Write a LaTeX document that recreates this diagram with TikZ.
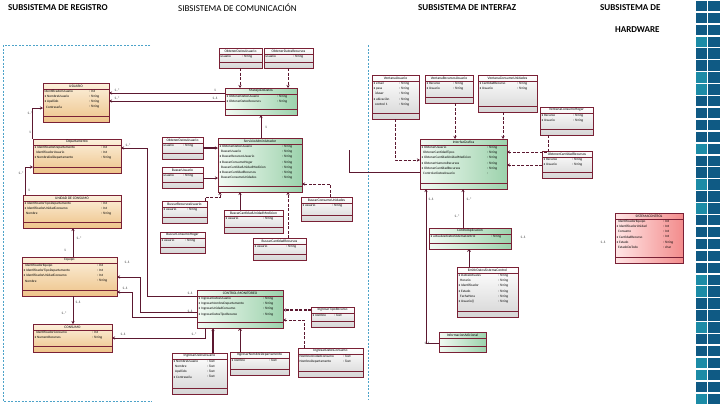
\documentclass[tikz,border=0pt]{standalone}
\usepackage{fontspec}
\setmainfont{Carlito}
\usetikzlibrary{arrows.meta}
\definecolor{clsred}{HTML}{7A2035}
\definecolor{lnc}{HTML}{5C1830}
\definecolor{frm}{HTML}{4DA3C9}
\definecolor{regA}{HTML}{FCF0DC}
\definecolor{regB}{HTML}{EEC48A}
\definecolor{grnA}{HTML}{F2FAF3}
\definecolor{grnB}{HTML}{9CD2AC}
\definecolor{whtB}{HTML}{D6D6D6}
\definecolor{hwA}{HTML}{FFE6E6}
\definecolor{hwB}{HTML}{F38C8C}
\definecolor{tileA}{HTML}{0F5A84}
\definecolor{tileB}{HTML}{1C8BA6}
\tikzset{
 cls/.style={draw=clsred, line width=0.7pt, inner sep=0pt, outer sep=0pt, anchor=north west},
 clsln/.style={draw=clsred, line width=0.5pt},
 ttl/.style={font=\fontsize{3.6}{4}\selectfont, inner sep=0pt, text=black},
 attr/.style={font=\fontsize{3.4}{5.2}\selectfont, inner sep=0pt, align=left, text=black},
 reg/.style={top color=regA, bottom color=regB},
 grn/.style={left color=grnA, right color=grnB},
 wht/.style={top color=white, bottom color=whtB},
 hw/.style={left color=hwA, right color=hwB},
 conn/.style={draw=lnc, line width=0.7pt},
 arr/.style={conn, -{Stealth[length=3pt,width=3pt]}},
 darr/.style={arr, dash pattern=on 3pt off 1.5pt},
 oarr/.style={conn, -{Straight Barb[length=2pt,width=3pt]}},
 mult/.style={font=\fontsize{3.6}{4}\selectfont, inner sep=0pt, text=black!80},
 dashframe/.style={draw=frm, line width=0.6pt, dash pattern=on 2pt off 1.5pt},
 subt/.style={font=\fontsize{9}{10}\selectfont\bfseries, inner sep=0pt, anchor=west},
}
% name, x1, y1, x2, y2, fill style, title, attribute names, attribute types
\newcommand{\classbox}[9]{%
  \node[cls,#6,minimum width={(#4-(#2))*1pt},minimum height={(#5-(#3))*1pt}] (#1) at (#2,#3) {};
  \draw[clsln] ([yshift=-6pt]#1.north west) -- ([yshift=-6pt]#1.north east);
  \draw[clsln] ([yshift=6pt]#1.south west) -- ([yshift=6pt]#1.south east);
  \node[ttl] (#1-t) at ([yshift=-3pt]#1.north) {#7};
  \node[attr,anchor=north west] (#1-n) at ([xshift=1.5pt,yshift=-7pt]#1.north west) {#8};
  \node[attr,anchor=north west] (#1-y) at ([xshift=-20pt,yshift=-7pt]#1.north east) {#9};
}
\begin{document}
\begin{tikzpicture}[x=1pt,y=-1pt]
\fill[white] (0,0) rectangle (720,405);
\useasboundingbox (0,0) rectangle (720,405);

% titles
\node[subt] (t1) at (8,8) {SUBSISTEMA DE REGISTRO};
\node[subt,font=\fontsize{9}{10}\selectfont] (t2) at (178,8) {SIBSISTEMA DE COMUNICACIÓN};
\node[subt] (t3) at (418,8) {SUBSISTEMA DE INTERFAZ};
\node[subt] (t4) at (600,8) {SUBSISTEMA DE};
\node[subt] (t5) at (615,30) {HARDWARE};

% dashed frames
\draw[dashframe] (150,45) -- (3,45) -- (3,401) -- (152,401);
\draw[dashframe] (368,45) -- (368,400);

% tiles
\foreach \i in {0,...,33}{
  \pgfmathsetmacro\ty{\i*11.9+0.8}
  \fill[tileA] (696,\ty) rectangle ++(11,10.4);
  \fill[tileA] (708,\ty) rectangle ++(11.5,10.4);
}
\foreach \i in {3,6,7,12,15,17,23,24,27,30,31,33}{
  \pgfmathsetmacro\ty{\i*11.9+0.8}
  \fill[tileB] (696,\ty) rectangle ++(11,10.4);
}

% ---------- REGISTRO ----------
\classbox{usuario}{43}{83}{109}{122}{reg}{USUARIO}
 {IdentificadorUsuario\\• NombreUsuario\\• Apellido\\\ \ Contraseña}{: Int\\: String\\: String\\: String}
\classbox{depto}{33}{139}{121}{173}{reg}{Departamento}
 {• IdentificadorDepartamento\\\ \ IdentificadorUsuario\\• NombreDelDepartamento}{: Int\\: Int\\: String}
\classbox{unidad}{23}{195}{121}{228}{reg}{UNIDAD DE CONSUMO}
 {• IdentificadorTipoDepartamento\\• IdentificadorUnidadConsumo\\\ \ Nombre}{: Int\\: Int\\: String}
\classbox{equipo}{22}{257}{117}{296}{reg}{Equipo}
 {\ \ IdentificadorEquipo\\• IdentificadorTipoDepartamento\\• IdentificadorUnidadConsumo\\\ \ Nombre}{: Int\\: Int\\: Int\\: String}
\classbox{consumo}{33}{324}{112}{352}{reg}{CONSUMO}
 {\ \ IdentificadorConsumo\\• NumeroRecursos}{: Int\\: String}

% ---------- COMUNICACION ----------
\classbox{odu1}{219}{48}{262}{68}{wht}{ObtenerDatosUsuario}{usuario}{: String}
\classbox{odr}{264}{48}{313}{68}{wht}{ObtenerDatosRecursos}{usuario}{: String}
\classbox{manejo}{225}{88}{297}{115}{grn}{ManejoDeDatos}
 {• ObtenerDatosUsuario\\• ObtenerDatosRecursos}{: String\\: String}
\classbox{servicio}{218}{138}{302}{192}{grn}{ServicioAdministrador}
 {• ObtenerDatosUsuario\\\ \ BuscarUsuario\\• BuscarRecursosUsuario\\• BuscarConsumoHogar\\\ \ BuscarCantidadUnidadMedicion\\• BuscarCantidadRecursos\\\ \ BuscarConsumoUnidades}
 {: String\\: String\\: String\\: String\\: String\\: String\\: String}
\classbox{odu2}{162}{137}{203}{159}{wht}{ObtenerDatosUsuario}{usuario}{: String}
\classbox{busu}{162}{167}{203}{188}{wht}{BuscarUsuario}{usuario}{: String}
\classbox{brecu}{162}{201}{207}{223}{wht}{BuscarRecursosUsuario}{• usuario}{: String}
\classbox{bhog}{160}{232}{205}{253}{wht}{BuscarConsumoHogar}{• usuario}{: String}
\classbox{bcum}{224}{210}{283}{233}{wht}{BuscarCantidadUnidadMedicion}{• usuario}{: String}
\classbox{bcrec}{253}{238}{306}{260}{wht}{BuscarCantidadRecursos}{• usuario}{: String}
\classbox{bcuni}{301}{197}{352}{221}{wht}{BuscarConsumoUnidades}{• usuario}{: String}
\classbox{control}{197}{290}{283}{328}{grn}{CONTROL/MONITOREO}
 {• IngresarDatosUsuario\\• IngresarNombreDepartamento\\• IngresarUnidadConsumo\\• IngresarDatosTipoRecurso}{: String\\: String\\: String\\: String}
\classbox{ingusu}{172}{353}{227}{394}{wht}{IngresarDatosUsuario}
 {• NombreUsuario\\\ \ Nombre\\\ \ Apellido\\• Contraseña}{: Text\\: Text\\: Text\\: Text}
\classbox{ingdep}{230}{352}{289}{375}{wht}{IngresarNombreDepartamento}{• nombre}{: Text}
\classbox{ingcon}{298}{348}{363}{377}{wht}{IngresarDatosConsumo}
 {NombreUnidadConsumo\\NombreDepartamento}{: Text\\: Text}
\classbox{ingtip}{311}{307}{354}{327}{wht}{IngresarTipoRecurso}{• nombre}{: Text}

% ---------- INTERFAZ ----------
\classbox{vusu}{372}{75}{419}{119}{wht}{VentanaUsuario}
 {• email\\• pass\\\ \ iduser\\• ubicación\\\ \ control 1}{: String\\: String\\: String\\: String\\: String}
\classbox{vrec}{425}{75}{473}{103}{wht}{VentanaRecursosUsuario}{• Recurso\\• Usuario}{: String\\: String}
\classbox{vhog}{478}{75}{537}{112}{wht}{VentanaConsumoUnidades}{• CantidadRecurso\\• Usuario}{: String\\: String}
\classbox{vcant}{540}{107}{593}{135}{wht}{VentanaConsumoHogar}{• Recurso\\• Usuario}{: String\\: String}
\classbox{ocant}{542}{151}{592}{178}{wht}{ObtenerCantidadRecursos}{• Recurso\\• Usuario}{: String\\: String}
\classbox{igraf}{420}{139}{507}{189}{grn}{InterfazGrafica}
 {• ObtenerUsuario\\\ \ ObtenerCantidadTipos\\• ObtenerCantidadUnidadMedicion\\• ObtenerNumeroRecursos\\• ObtenerCantidadRecursos\\\ \ ControlarDatosUsuario}
 {: String\\: String\\: String\\: String\\: String\\:}
\classbox{capl}{429}{228}{511}{249}{grn}{ControlAplicacion}{• actualizarDatosSistemaControl}{: String}
\classbox{emitir}{457}{267}{518}{317}{wht}{EmitirDatosSistemaControl}
 {• DatosActuales\\\ \ Horario\\• Identificador\\• Estado\\\ \ FechaHora\\• Usuario()}{: String\\: String\\: String\\: String\\: String\\: String}
\classbox{infad}{439}{332}{486}{352}{grn}{InformacionAdicional}{}{}

% ---------- HARDWARE ----------
\classbox{sisctl}{615}{213}{683}{263}{hw}{SISTEMACONTROL}
 {\ \ IdentificadorEquipo\\• IdentificadorUnidad\\\ \ Consumo\\• CantidadRecurso\\• Estado\\\ \ EstadoDeTodo}{: Int\\: Int\\: Int\\: Int\\: String\\: char}

% ---------- CONNECTORS: registro ----------
\draw[arr] ([xshift=-1pt]depto.north west) |- (usuario.west |- 0,108);
\draw[arr] (manejo.west |- 0,93) -- (usuario.east |- 0,93);
\draw[arr] (manejo.west |- 0,101) -- (usuario.east |- 0,101);
\draw[arr] ([xshift=2pt]unidad.north west) |- (depto.west |- 0,167);
\draw[arr] (equipo.north -| 73,0) -- (unidad.south -| 73,0);
\draw[arr] (equipo.south -| 73,0) -- (consumo.north -| 73,0);
\draw[arr] ([xshift=8pt]control.south west) |- (consumo.east |- 0,338);
\draw[arr] (control.west |- 0,296) -- (147,296) -- (147,148) -- (depto.east |- 0,148);
\draw[arr] (control.west |- 0,312) -- (140,312) -- (140,277) -- (equipo.east |- 0,277);
\draw[arr] (control.west |- 0,317) -- (132,317) -- (132,292) -- (equipo.east |- 0,292);

% ---------- CONNECTORS: comunicacion ----------
\draw[darr] (odu1.south -| 240,0) -- (manejo.north -| 240,0);
\draw[darr] (odr.south -| 288,0) -- (manejo.north -| 288,0);
\draw[arr] (servicio.north -| 261,0) -- (manejo.south -| 261,0);
\draw[arr, line width=1.4pt] (odu2.east |- 0,148) -- (servicio.west |- 0,148);
\draw[arr] (busu.east |- 0,178) -- (servicio.west |- 0,178);
\draw[darr] (brecu.north -| 205,0) |- (220,197) -- (servicio.south -| 220,0);
\draw[arr] (bcum.north -| 240,0) -- (servicio.south -| 240,0);
\draw[darr] (bcrec.north -| 288,0) -- (servicio.south -| 288,0);
\draw[darr] (bcuni.north -| 330,0) |- (servicio.east |- 0,184);
\draw[darr, line width=1.4pt] (ingtip.west |- 0,310) -- (control.east |- 0,310);
\draw[darr] (ingcon.north -| 304,0) |- (control.east |- 0,320);
\draw[arr, line width=1.3pt] (ingusu.north -| 213,0) -- (control.south -| 213,0);
\draw[oarr] (ingdep.north -| 240,0) -- (control.south -| 240,0);

% ---------- CONNECTORS: interfaz ----------
\coordinate (extA) at (349,150);
\draw[conn] (extA) |- (igraf.west |- 0,172);
\draw[darr] (vusu.south -| 395,0) |- (igraf.west |- 0,160);
\draw[darr] (vrec.south -| 455,0) -- (igraf.north -| 455,0);
\draw[darr] (vhog.south -| 503,0) -- (igraf.north -| 503,0);
\draw[darr] (vcant.south -| 548,0) |- (igraf.east |- 0,152);
\draw[darr] (ocant.west |- 0,165) -- (igraf.east |- 0,165);
\draw[arr] (capl.north -| 463,0) -- (igraf.south -| 463,0);
\draw[arr] (infad.west |- 0,343) -| (igraf.south -| 426,0);
\draw[oarr] (emitir.north -| 469,0) -- (capl.south -| 469,0);

% ---------- multiplicities ----------
\node[mult] (L1) at (30,132) {1};
\node[mult] (L2) at (30,113) {1..*};
\node[mult] (L3) at (117,90) {1..*};
\node[mult] (L4) at (117,98) {1..*};
\node[mult] (L5) at (215,90) {1};
\node[mult] (L6) at (215,98) {1..1};
\node[mult] (L7) at (128,145) {1..*};
\node[mult] (L8) at (21,173) {1..*};
\node[mult] (L9) at (29,190) {1};
\node[mult] (L10) at (79,238) {1..*};
\node[mult] (L11) at (65,250) {1};
\node[mult] (L12) at (127,262) {1..1};
\node[mult] (L13) at (125,288) {1..1};
\node[mult] (L14) at (78,302) {1..1};
\node[mult] (L15) at (64,313) {1..*};
\node[mult] (L16) at (123,334) {1..1};
\node[mult] (L17) at (190,293) {1..1};
\node[mult] (L18) at (190,311) {1..1};
\node[mult] (L19) at (194,334) {1..*};
\node[mult] (L20) at (266,127) {1};
\node[mult] (L21) at (431,199) {1..1};
\node[mult] (L22) at (469,199) {1..*};
\node[mult] (L23) at (457,216) {1..*};
\node[mult] (L24) at (523,237) {1..1};
\node[mult] (L25) at (603,242) {1..1};
\node[mult] (L26) at (427,343) {1..1};
\end{tikzpicture}
\end{document}
